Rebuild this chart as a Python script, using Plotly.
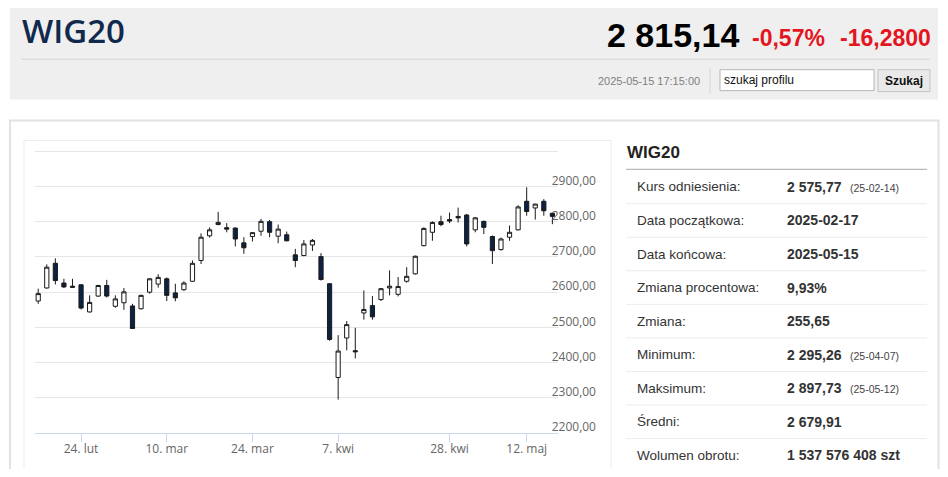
import plotly.graph_objects as go

### Data ###
dates = [
    "2025-02-17", "2025-02-18", "2025-02-19", "2025-02-20", "2025-02-21",
    "2025-02-24", "2025-02-25", "2025-02-26", "2025-02-27", "2025-02-28",
    "2025-03-03", "2025-03-04", "2025-03-05", "2025-03-06", "2025-03-07",
    "2025-03-10", "2025-03-11", "2025-03-12", "2025-03-13", "2025-03-14",
    "2025-03-17", "2025-03-18", "2025-03-19", "2025-03-20", "2025-03-21",
    "2025-03-24", "2025-03-25", "2025-03-26", "2025-03-27", "2025-03-28",
    "2025-03-31", "2025-04-01", "2025-04-02", "2025-04-03", "2025-04-04",
    "2025-04-07", "2025-04-08", "2025-04-09", "2025-04-10", "2025-04-11",
    "2025-04-14", "2025-04-15", "2025-04-16", "2025-04-17", "2025-04-22",
    "2025-04-23", "2025-04-24", "2025-04-25", "2025-04-28", "2025-04-29",
    "2025-04-30", "2025-05-02", "2025-05-05", "2025-05-06", "2025-05-07",
    "2025-05-08", "2025-05-09", "2025-05-12", "2025-05-13", "2025-05-14",
    "2025-05-15",
]
opens = [
    2575, 2612, 2682, 2626, 2617, 2621, 2544, 2589, 2619, 2560,
    2570, 2561, 2553, 2600, 2623, 2638, 2598, 2607, 2631, 2690,
    2760, 2792, 2783, 2782, 2740, 2758, 2773, 2800, 2759, 2763,
    2706, 2704, 2734, 2701, 2624, 2358, 2470, 2434, 2541, 2562,
    2579, 2612, 2594, 2631, 2652, 2732, 2770, 2800, 2806, 2815,
    2819, 2777, 2801, 2758, 2721, 2756, 2777, 2858, 2839, 2858,
    2824,
]
highs = [
    2610, 2679, 2696, 2638, 2638, 2623, 2591, 2621, 2635, 2591,
    2612, 2567, 2593, 2640, 2651, 2642, 2624, 2631, 2690, 2767,
    2784, 2828, 2796, 2784, 2756, 2771, 2808, 2805, 2792, 2772,
    2723, 2748, 2751, 2711, 2626, 2478, 2518, 2499, 2605, 2589,
    2612, 2662, 2643, 2671, 2704, 2784, 2801, 2817, 2826, 2840,
    2822, 2813, 2803, 2761, 2755, 2789, 2847, 2897.73, 2851, 2864,
    2826,
]
lows = [
    2567, 2610, 2622, 2612, 2613, 2551, 2542, 2587, 2585, 2556,
    2550, 2496, 2551, 2596, 2613, 2575, 2574, 2604, 2629, 2680,
    2755, 2790, 2770, 2730, 2709, 2744, 2760, 2756, 2739, 2744,
    2671, 2702, 2717, 2633, 2462, 2295.26, 2435, 2412, 2522, 2522,
    2575, 2591, 2588, 2627, 2650, 2730, 2746, 2787, 2796, 2798,
    2730, 2770, 2765, 2680, 2718, 2746, 2775, 2817, 2806, 2817,
    2793,
]
closes = [
    2596, 2671, 2633, 2615, 2614, 2555, 2571, 2619, 2589, 2581,
    2601, 2497, 2591, 2638, 2642, 2591, 2584, 2626, 2682, 2756,
    2777, 2798, 2779, 2751, 2726, 2769, 2801, 2770, 2779, 2746,
    2690, 2737, 2747, 2636, 2466, 2433, 2508, 2431, 2551, 2530,
    2610, 2617, 2616, 2645, 2702, 2781, 2798, 2792, 2802, 2811,
    2737, 2811, 2784, 2718, 2751, 2770, 2842, 2829, 2850, 2831,
    2815.14,
]

x_tick_dates = ["2025-02-24", "2025-03-10", "2025-03-24", "2025-04-07", "2025-04-28", "2025-05-12"]
x_tick_text = ["24. lut", "10. mar", "24. mar", "7. kwi", "28. kwi", "12. maj"]
y_tick_vals = [2200, 2300, 2400, 2500, 2600, 2700, 2800, 2900, 3000]
y_tick_text = ["2200,00", "2300,00", "2400,00", "2500,00", "2600,00", "2700,00", "2800,00", "2900,00", ""]

table_labels = ["Kurs odniesienia:", "Data początkowa:", "Data końcowa:", "Zmiana procentowa:",
                "Zmiana:", "Minimum:", "Maksimum:", "Średni:", "Wolumen obrotu:"]
table_values = ["2 575,77", "2025-02-17", "2025-05-15", "9,93%",
                "255,65", "2 295,26", "2 897,73", "2 679,91", "1 537 576 408 szt"]
table_notes = ["(25-02-14)", "", "", "", "", "(25-04-07)", "(25-05-12)", "", ""]

name = "WIG20"
last_price = "2 815,14"
change_pct = "-0,57%"
change_abs = "-16,2800"
quote_time = "2025-05-15 17:15:00"

### Page geometry ###
# the page body keeps its 8px margin, so the figure is 16px smaller than the window
OFF = 8
W, H = 948 - 2 * OFF, 477 - 2 * OFF
def px(x):
    return (x - OFF) / W
def py(y):
    return 1 - (y - OFF) / H

SANS = "Liberation Sans, Arial"

def label(text, x, y, size, color, anchor="left", family=SANS, weight="normal"):
    return dict(text=text, x=px(x), y=py(y), xref="paper", yref="paper", xanchor=anchor, yanchor="middle",
                showarrow=False, font=dict(family=family, size=size, color=color, weight=weight))

def hline(x0, x1, y, color, width=1):
    return dict(type="line", xref="paper", yref="paper", x0=px(x0), x1=px(x1), y0=py(y), y1=py(y),
                line=dict(color=color, width=width))

fig = go.Figure()

fig.add_trace(go.Candlestick(
    x=dates, open=opens, high=highs, low=lows, close=closes,
    increasing=dict(fillcolor="white", line=dict(color="#1a1a1a", width=1)),
    decreasing=dict(fillcolor="#0c2244", line=dict(color="#1a1a1a", width=1)),
    whiskerwidth=0, showlegend=False, hoverinfo="skip",
))

shapes = []
annotations = []

### Header box ###
shapes.append(dict(type="rect", xref="paper", yref="paper", x0=px(10), x1=px(938), y0=py(100), y1=py(4),
                   fillcolor="#efefef", line=dict(width=0), layer="below"))
shapes.append(hline(21, 930, 59.5, "#d6d6d6"))
shapes.append(dict(type="line", xref="paper", yref="paper", x0=px(710), x1=px(710), y0=py(68), y1=py(94),
                   line=dict(color="#d6d6d6", width=1)))
# search input + button
shapes.append(dict(type="rect", xref="paper", yref="paper", x0=px(720), x1=px(874), y0=py(91), y1=py(70),
                   fillcolor="white", line=dict(color="#b5b5b5", width=1)))
shapes.append(dict(type="rect", xref="paper", yref="paper", x0=px(878), x1=px(930), y0=py(92), y1=py(70),
                   fillcolor="#e9e9e9", line=dict(color="#c4c4c4", width=1)))

annotations.append(label(name, 19.5, 31, 33, "#10294d", family="Open Sans", weight=600))
annotations.append(label("<b>" + last_price + "</b>", 741, 35, 34, "#000000", anchor="right"))
annotations.append(label("<b>" + change_pct + "</b>", 750, 38, 23, "#e3151e"))
annotations.append(label("<b>" + change_abs + "</b>", 933, 38, 23, "#e3151e", anchor="right"))
annotations.append(label(quote_time, 702, 81, 11, "#808080", anchor="right"))
annotations.append(label("szukaj profilu", 722, 80, 12, "#111111"))
annotations.append(label("<b>Szukaj</b>", 904, 81, 12, "#111111", anchor="center"))

### Content boxes ###
shapes.append(dict(type="rect", xref="paper", yref="paper", x0=px(10), x1=px(938.5), y0=py(480), y1=py(121),
                   line=dict(color="#e2e2e2", width=2), layer="below"))
shapes.append(dict(type="rect", xref="paper", yref="paper", x0=px(24), x1=px(611), y0=py(480), y1=py(141),
                   line=dict(color="#ececec", width=1), layer="below"))

### Right hand table ###
annotations.append(label("<b>" + name + "</b>", 624.5, 153, 17, "#222222"))
shapes.append(hline(626, 927, 170, "#a8a8a8"))
row_y0 = 187.7
row_h = 33.7
for i, (lab, val, note) in enumerate(zip(table_labels, table_values, table_notes)):
    yc = row_y0 + i * row_h
    annotations.append(label(lab, 634.5, yc, 13.5, "#333333"))
    annotations.append(label("<b>" + val + "</b>", 784.5, yc, 14, "#333333"))
    if note:
        annotations.append(label(note, 848, yc + 1, 10.5, "#444444"))
    shapes.append(hline(626, 927, yc + row_h / 2, "#ececec"))

### Axes ###
# plot area: x 34.7..557.7 px, y 150..435 px ; candle spacing ~8.57 px
fig.update_xaxes(
    type="category", domain=[px(34.7), px(557.7)], range=[-0.41, 60.62],
    rangeslider=dict(visible=False), showgrid=False, zeroline=False,
    showline=True, linecolor="#ccd6eb", linewidth=1,
    ticks="outside", ticklen=8, tickcolor="#ccd6eb", tickwidth=1,
    tickvals=x_tick_dates, ticktext=x_tick_text,
    tickfont=dict(family="Open Sans", size=12, color="#666666"),
    ticklabelstandoff=-4,
)
fig.update_yaxes(
    domain=[py(435), py(150.1)], range=[2200, 3005], side="right",
    showgrid=True, gridcolor="#e6e6e6", gridwidth=1, zeroline=False, showline=False,
    tickvals=y_tick_vals, ticktext=y_tick_text,
    tickfont=dict(family="Open Sans", size=12, color="#666666"),
    ticklabelshift=-6, ticklabelstandoff=-7,
)

fig.update_layout(
    width=W, height=H, margin=dict(l=0, r=0, t=0, b=0),
    paper_bgcolor="white", plot_bgcolor="white",
    shapes=shapes, annotations=annotations,
)

fig.write_html("out.html")
